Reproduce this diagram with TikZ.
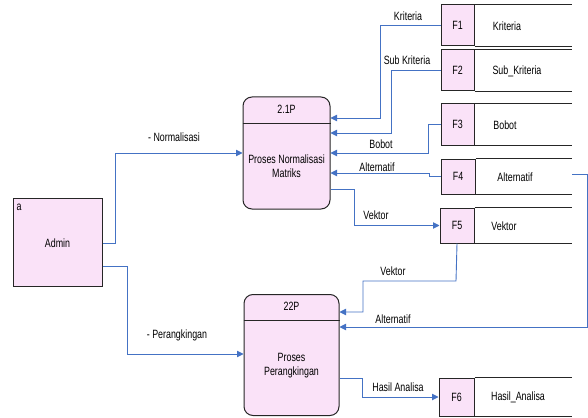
\documentclass[tikz,border=0pt]{standalone}
\usepackage{fontspec}
\setmainfont{Liberation Sans}[FakeStretch=0.74]
\usepackage{xcolor}
\usetikzlibrary{arrows.meta, positioning}
\definecolor{dfdpink}{RGB}{250,226,248}
\definecolor{dfdblue}{RGB}{68,114,196}
\tikzset{
  proc/.style={draw=black!85, fill=dfdpink, line width=1pt, rounded corners=9pt, inner sep=0pt},
  storeid/.style={draw=black!85, fill=dfdpink, line width=1pt, inner sep=0pt, font=\fontsize{12}{14}\selectfont},
  entity/.style={draw=black!85, fill=dfdpink, line width=1pt, inner sep=0pt},
  flow/.style={draw=dfdblue, line width=0.9pt, -{Triangle[length=6.5pt,width=6.5pt]}},
  lbl/.style={font=\fontsize{12}{14}\selectfont, inner sep=1pt},
}
\begin{document}
\begin{tikzpicture}[x=1pt, y=-1pt]
  \useasboundingbox (0,0) rectangle (588,417);

  % external entity
  \node[entity, minimum width=89pt, minimum height=88pt] (admin) at (57.5,242.5) {};
  \node[lbl] (admintag) at (19,207) {a};
  \node[lbl] (adminname) at (57.5,243) {Admin};

  % processes
  \node[proc, minimum width=87pt, minimum height=112pt] (p21) at (286.5,153) {};
  \draw[line width=1pt, black!85] (p21.west |- 0,123) -- (p21.east |- 0,123);
  \node[lbl] (p21id) at (286.5,109) {2.1P};
  \node[lbl, align=center] (p21name) at (286.5,166) {Proses Normalisasi\\Matriks};

  \node[proc, minimum width=95pt, minimum height=121pt] (p22) at (291.5,355) {};
  \draw[line width=1pt, black!85] (p22.west |- 0,320) -- (p22.east |- 0,320);
  \node[lbl] (p22id) at (291.5,306) {22P};
  \node[lbl, align=center] (p22name) at (291.5,366) {Proses\\Perangkingan};

  % data stores
  \node[storeid, minimum width=33pt, minimum height=41pt] (f1) at (457.5,25.5) {F1};
  \node[storeid, minimum width=33pt, minimum height=41pt] (f2) at (457.5,70.5) {F2};
  \node[storeid, minimum width=33pt, minimum height=41pt] (f3) at (457.5,124.5) {F3};
  \node[storeid, minimum width=34pt, minimum height=35pt] (f4) at (458,176.5) {F4};
  \node[storeid, minimum width=34pt, minimum height=35pt] (f5) at (457,225.5) {F5};
  \node[storeid, minimum width=35pt, minimum height=38pt] (f6) at (456.5,397) {F6};
  \foreach \s in {f1,f2,f3,f4,f5,f6} {
    \draw[line width=1pt, black!85] (\s.north east) -- (572,0 |- \s.north east);
    \draw[line width=1pt, black!85] (\s.south east) -- (572,0 |- \s.south east);
  }
  \node[lbl] (f1name) at (507,26) {Kriteria};
  \node[lbl] (f2name) at (517,71) {Sub\_Kriteria};
  \node[lbl] (f3name) at (505,125) {Bobot};
  \node[lbl] (f4name) at (515,177) {Alternatif};
  \node[lbl] (f5name) at (504,226) {Vektor};
  \node[lbl] (f6name) at (518,397) {Hasil\_Analisa};

  % flows
  \coordinate (f4r) at (572,174);
  \draw[flow] (admin.east |- 0,243) -- (115,243) |- (p21.west |- 0,153);
  \draw[flow] (admin.east |- 0,266) -- (127,266) |- (p22.west |- 0,354);
  \draw[flow] (f1.west) -- (380,25.5) |- (p21.east |- 0,118);
  \draw[flow] (f2.west) -- (391,70.5) |- (p21.east |- 0,133);
  \draw[flow] (f3.west) -- (428,124.5) |- (p21.east |- 0,153);
  \draw[flow] (f4.west) -- (429,176.5) -- (429,173) -- (p21.east |- 0,173);
  \draw[flow] (p21.east |- 0,189) -- (354,189) |- (f5.west);
  \draw[flow] (f5.south) -- (456,281) -- (363,281) |- (p22.east |- 0,312);
  \draw[flow] (f4r) -- (587,174) |- (p22.east |- 0,327);
  \draw[flow] (p22.east |- 0,378) -- (362,378) |- (f6.west);

  % flow labels
  \node[lbl] (lkrit) at (408,16) {Kriteria};
  \node[lbl] (lsub) at (407,60) {Sub Kriteria};
  \node[lbl] (lbob) at (381,144) {Bobot};
  \node[lbl] (lalt1) at (377,167) {Alternatif};
  \node[lbl] (lvek1) at (376,215) {Vektor};
  \node[lbl] (lvek2) at (393,271) {Vektor};
  \node[lbl] (lalt2) at (393,319) {Alternatif};
  \node[lbl] (lnorm) at (174,137) {- Normalisasi};
  \node[lbl] (lrank) at (177,335) {- Perangkingan};
  \node[lbl] (lhasil) at (398,387) {Hasil Analisa};
\end{tikzpicture}
\end{document}
